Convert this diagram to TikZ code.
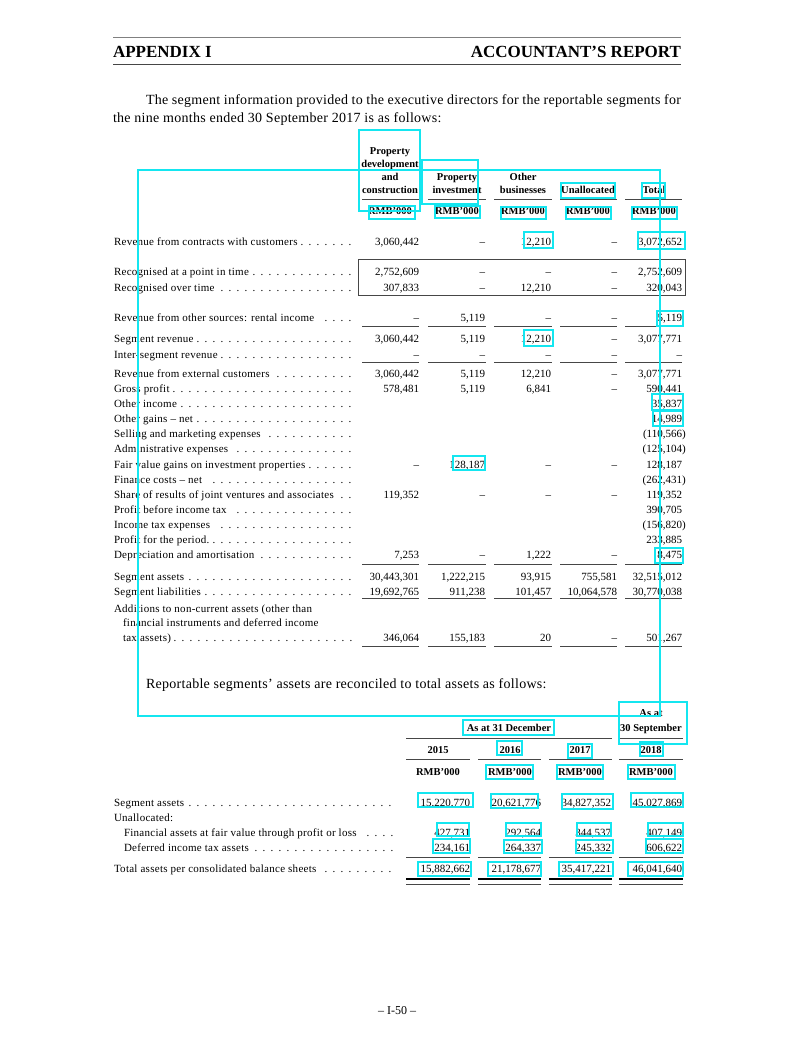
\documentclass[tikz,border=0pt]{standalone}
\usepackage{fontspec}
\setmainfont{Liberation Serif}
\newfontfamily\lsf{Liberation Serif}[LetterSpace=2.5]
\newfontfamily\psf{Liberation Serif}[LetterSpace=2]
\definecolor{ann}{RGB}{20,230,240}
\definecolor{rul}{RGB}{70,70,70}
\newcommand\dotlead{\leaders\hbox to 8pt{\hss.\hss}\hfill}
% table 1 row: name, baseline y, label, 5 values
\newcommand\trow[8]{%
  \node[lbl] (#1l) at (114,#2) {\makebox[242pt][l]{#3\dotlead}};
  \node[num] (#1a) at (419,#2) {#4};
  \node[num] (#1b) at (485,#2) {#5};
  \node[num] (#1c) at (551,#2) {#6};
  \node[num] (#1d) at (617,#2) {#7};
  \node[num] (#1e) at (682,#2) {#8};}
% table 2 row: name, baseline y, x of label, label width, label, 4 values
\newcommand\srow[9]{%
  \node[lbl] (#1l) at (#3,#2) {\makebox[#4pt][l]{#5\dotlead}};
  \node[num] (#1a) at (470,#2) {#6};
  \node[num] (#1b) at (541,#2) {#7};
  \node[num] (#1c) at (611,#2) {#8};
  \node[num] (#1d) at (682,#2) {#9};}
\newcommand\ulines[1]{%
  \draw[rl] (362,#1) -- (419,#1); \draw[rl] (428,#1) -- (486,#1);
  \draw[rl] (494,#1) -- (552,#1); \draw[rl] (560,#1) -- (617,#1);
  \draw[rl] (625,#1) -- (682,#1);}
\newcommand\vlines[2]{%
  \draw[#2] (406,#1) -- (470,#1); \draw[#2] (478,#1) -- (541,#1);
  \draw[#2] (549,#1) -- (612,#1); \draw[#2] (619,#1) -- (683,#1);}
\begin{document}
\begin{tikzpicture}[x=1pt,y=-1pt,inner sep=0pt,outer sep=0pt,
  lbl/.style={anchor=base west,font=\lsf\fontsize{11}{13}\selectfont},
  num/.style={anchor=base east,font=\fontsize{11}{13}\selectfont},
  hd/.style={anchor=base,font=\bfseries\fontsize{10.5}{12}\selectfont},
  para/.style={anchor=base west,font=\psf\fontsize{14}{16}\selectfont},
  rl/.style={draw=rul,line width=0.8pt},
  thick2/.style={draw=black,line width=2.4pt},
  ann/.style={draw=ann,line width=2.8pt}]
\useasboundingbox[fill=white] (0,0) rectangle (794,1059);

% page header
\draw[draw=gray,line width=0.8pt] (113,37) -- (681,37);
\draw[draw=rul,line width=0.9pt] (113,64) -- (681,64);
\node[anchor=base west,font=\bfseries\fontsize{17}{20}\selectfont] (hl) at (113,58) {APPENDIX I};
\node[anchor=base east,font=\bfseries\fontsize{17}{20}\selectfont] (hr) at (681,58) {ACCOUNTANT’S REPORT};

% intro paragraph
\node[para] (p1) at (146,105)
  {\makebox[535pt][s]{The segment information provided to the executive directors for the reportable segments for}};
\node[para] (p2) at (113,123)
  {the nine months ended 30 September 2017 is as follows:};

% table 1 header
\node[hd] (h1a) at (390,155) {Property};
\node[hd] (h1b) at (390,168) {development};
\node[hd] (h1c) at (390,181) {and};
\node[hd] (h1d) at (390,194) {construction};
\node[hd] (h2a) at (457,181) {Property};
\node[hd] (h2b) at (457,194) {investment};
\node[hd] (h3a) at (523,181) {Other};
\node[hd] (h3b) at (523,194) {businesses};
\node[hd] (h4) at (588,194) {Unallocated};
\node[hd] (h5) at (654,194) {Total};
\ulines{199}
\node[hd] (u1) at (390,215) {RMB’000};
\node[hd] (u2) at (457,215) {RMB’000};
\node[hd] (u3) at (523,215) {RMB’000};
\node[hd] (u4) at (588,215) {RMB’000};
\node[hd] (u5) at (654,215) {RMB’000};

% table 1 body
\trow{ra}{245}{Revenue from contracts with customers}{3,060,442}{–}{12,210}{–}{3,072,652}
\draw[rl] (358,259) rectangle (685,295);
\trow{rb}{275}{Recognised at a point in time}{2,752,609}{–}{–}{–}{2,752,609}
\trow{rc}{291}{Recognised over time}{307,833}{–}{12,210}{–}{320,043}
\trow{rd}{321}{Revenue from other sources: rental income}{–}{5,119}{–}{–}{5,119}
\ulines{326}
\trow{re}{342}{Segment revenue}{3,060,442}{5,119}{12,210}{–}{3,077,771}
\trow{rf}{358}{Inter-segment revenue}{–}{–}{–}{–}{–}
\ulines{362}
\trow{rg}{377}{Revenue from external customers}{3,060,442}{5,119}{12,210}{–}{3,077,771}
\trow{rh}{392}{Gross profit}{578,481}{5,119}{6,841}{–}{590,441}
\trow{ri}{407}{Other income}{}{}{}{}{35,837}
\trow{rj}{422}{Other gains – net}{}{}{}{}{14,989}
\trow{rk}{437}{Selling and marketing expenses}{}{}{}{}{(110,566\rlap{)}}
\trow{rm}{452}{Administrative expenses}{}{}{}{}{(125,104\rlap{)}}
\trow{rn}{468}{Fair value gains on investment properties}{–}{128,187}{–}{–}{128,187}
\trow{ro}{483}{Finance costs – net}{}{}{}{}{(262,431\rlap{)}}
\trow{rp}{498}{Share of results of joint ventures and associates}{119,352}{–}{–}{–}{119,352}
\trow{rq}{513}{Profit before income tax}{}{}{}{}{390,705}
\trow{rr}{528}{Income tax expenses}{}{}{}{}{(156,820\rlap{)}}
\trow{rs}{543}{Profit for the period.}{}{}{}{}{233,885}
\trow{rt}{558}{Depreciation and amortisation}{7,253}{–}{1,222}{–}{8,475}
\ulines{564}
\trow{ru}{580}{Segment assets}{30,443,301}{1,222,215}{93,915}{755,581}{32,515,012}
\trow{rv}{595}{Segment liabilities}{19,692,765}{911,238}{101,457}{10,064,578}{30,770,038}
\ulines{598}
\node[lbl] (rw1) at (114,612) {Additions to non-current assets (other than};
\node[lbl] (rw2) at (123,626) {financial instruments and deferred income};
\node[lbl] (rwl) at (123,641) {\makebox[233pt][l]{tax assets)\dotlead}};
\node[num] (rwa) at (419,641) {346,064};
\node[num] (rwb) at (485,641) {155,183};
\node[num] (rwc) at (551,641) {20};
\node[num] (rwd) at (617,641) {–};
\node[num] (rwe) at (682,641) {501,267};
\ulines{646}

% second paragraph
\node[para] (p3) at (146,688)
  {Reportable segments’ assets are reconciled to total assets as follows:};

% table 2 header
\node[hd] (s4a) at (651,716) {As at};
\node[hd] (s4b) at (651,731) {30 September};
\node[hd] (s13) at (509,731) {As at 31 December};
\draw[rl] (406,738) -- (612,738);
\draw[rl] (619,738) -- (683,738);
\node[hd] (y1) at (438,753) {2015};
\node[hd] (y2) at (510,753) {2016};
\node[hd] (y3) at (580,753) {2017};
\node[hd] (y4) at (651,753) {2018};
\vlines{759}{rl}
\node[hd] (v1) at (438,775) {RMB’000};
\node[hd] (v2) at (510,775) {RMB’000};
\node[hd] (v3) at (580,775) {RMB’000};
\node[hd] (v4) at (651,775) {RMB’000};

% table 2 body
\srow{sa}{806}{114}{286}{Segment assets}{15,220,770}{20,621,776}{34,827,352}{45,027,869}
\node[lbl] (sb) at (114,821) {Unallocated:};
\srow{sc}{836}{124}{276}{Financial assets at fair value through profit or loss}{427,731}{292,564}{344,537}{407,149}
\srow{sd}{851}{124}{276}{Deferred income tax assets}{234,161}{264,337}{245,332}{606,622}
\vlines{857}{rl}
\srow{se}{872}{114}{286}{Total assets per consolidated balance sheets}{15,882,662}{21,178,677}{35,417,221}{46,041,640}
\vlines{879}{thick2}
\vlines{884}{rl}

% page number
\node[anchor=base,font=\fontsize{12}{14}\selectfont] (pg) at (397,1014) {– I-50 –};

% cyan annotation boxes
\draw[ann] (138,170) rectangle (660,716);
\draw[ann] (359,130) rectangle (420,211);
\draw[ann] (422,160) rectangle (478,204);
\draw[ann] (369,206) rectangle (415,219);
\draw[ann] (435,206) rectangle (480,218);
\draw[ann] (501,207) rectangle (546,219);
\draw[ann] (566,207) rectangle (611,219);
\draw[ann] (632,207) rectangle (677,219);
\draw[ann] (561,183) rectangle (615,198);
\draw[ann] (642,183) rectangle (665,198);
\draw[ann] (524,232) rectangle (553,248);
\draw[ann] (638,232) rectangle (685,249);
\draw[ann] (657,311) rectangle (683,326);
\draw[ann] (524,330) rectangle (553,346);
\draw[ann] (652,394) rectangle (683,410);
\draw[ann] (653,411) rectangle (683,426);
\draw[ann] (453,456) rectangle (485,470);
\draw[ann] (655,548) rectangle (683,563);
\draw[ann] (463,720) rectangle (554,735);
\draw[ann] (619,702) rectangle (687,744);
\draw[ann] (497,741) rectangle (522,755);
\draw[ann] (568,744) rectangle (592,758);
\draw[ann] (640,742) rectangle (663,756);
\draw[ann] (486,765) rectangle (533,779);
\draw[ann] (557,765) rectangle (603,779);
\draw[ann] (628,765) rectangle (675,779);
\draw[ann] (418,793) rectangle (473,807);
\draw[ann] (491,794) rectangle (538,808);
\draw[ann] (562,794) rectangle (613,809);
\draw[ann] (631,793) rectangle (683,807);
\draw[ann] (437,823) rectangle (469,836);
\draw[ann] (506,823) rectangle (541,836);
\draw[ann] (577,823) rectangle (611,836);
\draw[ann] (648,823) rectangle (683,836);
\draw[ann] (433,839) rectangle (470,853);
\draw[ann] (504,840) rectangle (542,853);
\draw[ann] (576,840) rectangle (613,853);
\draw[ann] (646,839) rectangle (683,853);
\draw[ann] (418,862) rectangle (471,876);
\draw[ann] (488,862) rectangle (541,876);
\draw[ann] (559,862) rectangle (613,876);
\draw[ann] (628,862) rectangle (683,876);
\end{tikzpicture}
\end{document}
